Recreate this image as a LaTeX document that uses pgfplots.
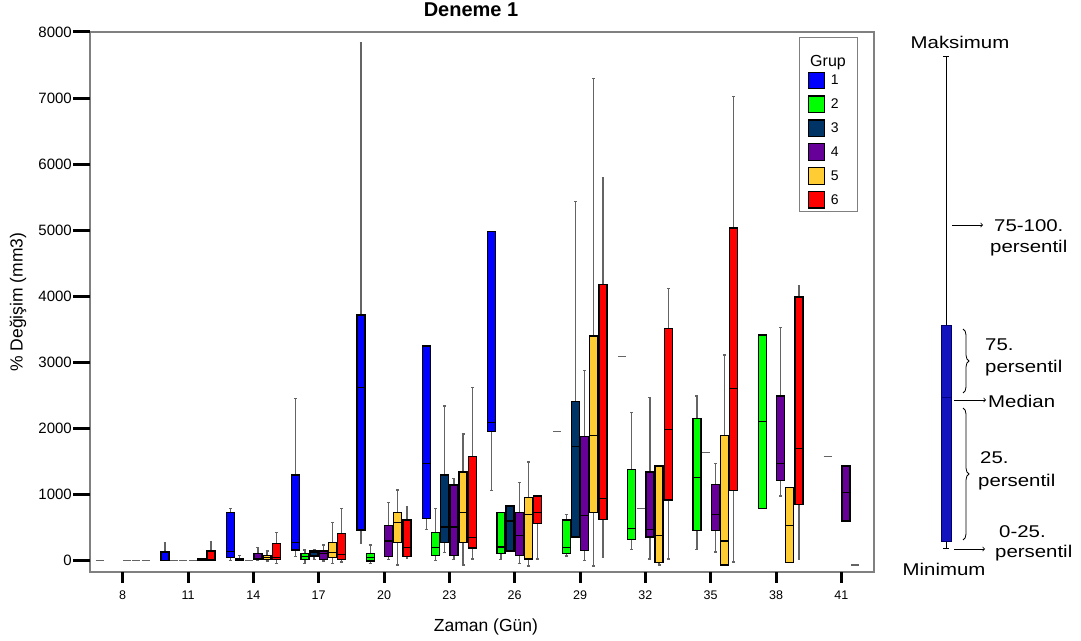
\documentclass[border=0pt]{standalone}
\usepackage{fontspec}
\setmainfont{Liberation Sans}
\newfontfamily\widefont[FakeStretch=1.2]{Liberation Sans}
\usepackage{pgfplots}
\pgfplotsset{compat=1.18}
\usetikzlibrary{decorations.pathreplacing}
\definecolor{g1}{RGB}{0,0,255}
\definecolor{g2}{RGB}{0,255,0}
\definecolor{g3}{RGB}{0,51,102}
\definecolor{g4}{RGB}{102,0,153}
\definecolor{g5}{RGB}{255,204,51}
\definecolor{g6}{RGB}{255,0,0}
\definecolor{wh}{RGB}{100,100,100}
\definecolor{schem}{RGB}{20,20,190}
% box: cat, slot, colour, lower whisker, q1, median, q3, upper whisker
\newcommand{\bx}[8]{%
  \pgfmathsetmacro\xc{#1+(#2-3.5)*0.1407}%
  \pgfmathsetmacro\xl{\xc-0.0615}%
  \pgfmathsetmacro\xr{\xc+0.0615}%
  \pgfmathsetmacro\xa{\xc-0.0225}%
  \pgfmathsetmacro\xb{\xc+0.0225}%
  \edef\tmp{%
  \noexpand\addplot[draw=wh, line width=1.3bp, mark=none, unbounded coords=jump]
    coordinates {(\xc,#7) (\xc,#8) (nan,nan) (\xa,#8) (\xb,#8) (nan,nan) (\xc,#5) (\xc,#4) (nan,nan) (\xa,#4) (\xb,#4)};
  \noexpand\addplot[fill=#3, draw=black, line width=1.3bp, mark=none]
    coordinates {(\xl,#5) (\xr,#5) (\xr,#7) (\xl,#7)} --cycle;
  \noexpand\addplot[draw=black, line width=1.2bp, mark=none]
    coordinates {(\xl,#6) (\xr,#6)};}%
  \tmp}
\newcommand{\dsh}[3]{%
  \pgfmathsetmacro\xc{#1+(#2-3.5)*0.1407}%
  \pgfmathsetmacro\xl{\xc-0.0615}%
  \pgfmathsetmacro\xr{\xc+0.0615}%
  \edef\tmp{\noexpand\addplot[draw=wh, line width=1.3bp, mark=none]
    coordinates {(\xl,#3) (\xr,#3)};}%
  \tmp}
\newcommand{\sq}[1]{\addlegendimage{legend image code/.code={\draw[fill=#1,draw=black,line width=1.2bp] (0bp,-8.2bp) rectangle (16bp,8.2bp);}}}
\begin{document}
\begin{tikzpicture}
\path[use as bounding box] (0bp,0bp) rectangle (1081bp,641bp);
\begin{axis}[
  at={(90bp,69bp)}, anchor=south west, scale only axis,
  width=784bp, height=540bp,
  xmin=-0.5, xmax=11.5, ymin=-175, ymax=8000,
  xtick={0,...,11},
  xticklabels={8,11,14,17,20,23,26,29,32,35,38,41},
  ytick={0,1000,...,8000},
  xtick pos=bottom, ytick pos=left,
  tick align=outside, major tick length=17bp,
  tick style={draw=none},
  after end axis/.code={
    \foreach \v in {0,1000,...,8000} {\draw[black, line width=3bp] (axis cs:-0.5,\v) -- ++(-17bp,0bp);}
    \foreach \c in {0,...,11} {\draw[black, line width=3bp] (axis cs:\c,-175) -- ++(0bp,-11bp);}
  },
  /pgf/number format/1000 sep={},
  /pgf/number format/assume math mode=true,
  yticklabel style={font=\fontsize{15bp}{15bp}\selectfont, inner sep=1bp},
  xticklabel style={font=\fontsize{12.5bp}{12.5bp}\selectfont, inner sep=1.5bp},
  axis line style={draw=gray, line width=1.2bp},
  title={\textbf{Deneme 1}},
  title style={at={(0.486,1)}, anchor=base, yshift=9.6bp, font=\fontsize{20bp}{20bp}\selectfont},
  xlabel={Zaman (Gün)},
  xlabel style={at={(0.505,0)}, anchor=base, yshift=-59.7bp, font=\fontsize{17.5bp}{17.5bp}\selectfont},
  ylabel={\% Değişim (mm3)},
  every axis y label/.style={at={(-0.0918,0.5)}, rotate=90, anchor=center, font=\fontsize{17.5bp}{17.5bp}\selectfont},
  legend style={at={(0.9043,0.9902)}, anchor=north west, draw=gray, line width=1bp, fill=none,
    font=\fontsize{14bp}{14bp}\selectfont, row sep=6.3bp, column sep=5.5bp,
    inner xsep=8.8bp, inner ysep=3bp, nodes={inner sep=0bp}},
  legend cell align=left,
]
\addlegendimage{empty legend}\addlegendentry{\raisebox{0bp}[23bp][0bp]{\hspace{17.5bp}}}
\sq{g1}\addlegendentry{1}
\sq{g2}\addlegendentry{2}
\sq{g3}\addlegendentry{3}
\sq{g4}\addlegendentry{4}
\sq{g5}\addlegendentry{5}
\sq{g6}\addlegendentry{6}
\node[anchor=base west, inner sep=0bp, font=\fontsize{16bp}{16bp}\selectfont] at (axis description cs:0.9184,0.9357) {Grup};
% day 8
\dsh{0}{1}{0}\dsh{0}{4}{0}\dsh{0}{5}{0}\dsh{0}{6}{0}
% day 11
\bx{1}{1}{g1}{0}{0}{0}{126}{268}
\dsh{1}{2}{0}\dsh{1}{3}{0}\dsh{1}{4}{0}
\bx{1}{5}{g5}{0}{0}{5}{20}{20}
\bx{1}{6}{g6}{0}{0}{10}{141}{292}
% day 14
\bx{2}{1}{g1}{0}{40}{141}{722}{783}
\bx{2}{2}{g2}{0}{0}{10}{20}{80}
\dsh{2}{3}{0}
\bx{2}{4}{g4}{0}{15}{30}{101}{192}
\bx{2}{5}{g5}{-10}{15}{50}{80}{141}
\bx{2}{6}{g6}{-50}{15}{50}{253}{419}
% day 17
\bx{3}{1}{g1}{56}{156}{268}{1293}{2450}
\bx{3}{2}{g2}{-50}{15}{61}{106}{156}
\bx{3}{3}{g3}{15}{65}{116}{141}{167}
\bx{3}{4}{g4}{-10}{15}{101}{141}{232}
\bx{3}{5}{g5}{-50}{40}{126}{268}{571}
\bx{3}{6}{g6}{-25}{15}{91}{404}{783}
% day 20
\bx{4}{1}{g1}{253}{459}{2621}{3717}{7833}
\bx{4}{2}{g2}{-50}{-10}{50}{106}{232}
\bx{4}{4}{g4}{15}{56}{293}{530}{874}
\bx{4}{5}{g5}{-71}{268}{571}{722}{1065}
\bx{4}{6}{g6}{30}{56}{192}{611}{808}
% day 23
\bx{5}{1}{g1}{470}{631}{1465}{3247}{3247}
\bx{5}{2}{g2}{0}{80}{192}{419}{783}
\bx{5}{3}{g3}{116}{268}{505}{1293}{2338}
\bx{5}{4}{g4}{15}{80}{505}{1141}{1237}
\bx{5}{5}{g5}{-71}{268}{722}{1338}{1914}
\bx{5}{6}{g6}{20}{187}{353}{1576}{2616}
% day 26
\bx{6}{1}{g1}{1061}{1955}{2086}{4979}{4979}
\bx{6}{2}{g2}{15}{101}{202}{722}{722}
\bx{6}{3}{g3}{141}{141}{596}{823}{823}
\bx{6}{4}{g4}{-50}{80}{379}{722}{1177}
\bx{6}{5}{g5}{-86}{20}{697}{955}{1489}
\bx{6}{6}{g6}{20}{556}{722}{975}{975}
% day 29
\dsh{7}{1}{1955}
\bx{7}{2}{g2}{65}{101}{192}{611}{697}
\bx{7}{3}{g3}{353}{353}{1727}{2404}{5439}
\bx{7}{4}{g4}{0}{152}{677}{1874}{2879}
\bx{7}{5}{g5}{-86}{722}{1894}{3398}{7297}
\bx{7}{6}{g6}{40}{616}{934}{4182}{5788}
% day 32
\dsh{8}{1}{3086}
\bx{8}{2}{g2}{167}{318}{480}{1379}{2237}
\dsh{8}{3}{783}
\bx{8}{4}{g4}{20}{353}{470}{1338}{2465}
\bx{8}{5}{g5}{-71}{-30}{379}{1429}{1429}
\bx{8}{6}{g6}{20}{914}{1980}{3509}{4121}
% day 35
\bx{9}{2}{g2}{167}{450}{1253}{2152}{2490}
\dsh{9}{3}{1636}
\bx{9}{4}{g4}{126}{450}{697}{1147}{1465}
\bx{9}{5}{g5}{-71}{-71}{293}{1894}{3111}
\bx{9}{6}{g6}{-25}{1061}{2601}{5035}{7024}
% day 38
\bx{10}{2}{g2}{783}{783}{2101}{3414}{3414}
\bx{10}{4}{g4}{975}{1207}{1465}{2490}{3524}
\bx{10}{5}{g5}{-30}{-30}{530}{1101}{1101}
\bx{10}{6}{g6}{20}{848}{1697}{3989}{4161}
% day 41
\dsh{11}{2}{1576}
\bx{11}{4}{g4}{596}{596}{1025}{1429}{1429}
\dsh{11}{5}{-71}
\end{axis}
% schematic panel
\begin{axis}[
  at={(880bp,0bp)}, anchor=south west, scale only axis,
  width=201bp, height=641bp,
  xmin=880, xmax=1081, ymin=-641, ymax=0,
  hide axis, clip=false,
]
\addplot[draw=black, line width=1bp, mark=none, unbounded coords=jump]
  coordinates {(946,-57) (946,-326) (nan,nan) (943,-57) (949,-57) (nan,nan) (946,-542) (946,-549) (nan,nan) (943,-549) (949,-549)};
\addplot[fill=schem, draw=black!60!blue, line width=1bp, mark=none]
  coordinates {(941,-326) (951,-326) (951,-542) (941,-542)} --cycle;
\addplot[draw=black!50!blue, line width=1bp, mark=none] coordinates {(941,-398) (951,-398)};
\begin{scope}[font=\widefont\fontsize{17bp}{17bp}\selectfont]
\node[anchor=center] at (axis cs:960,-42) {Maksimum};
\node[anchor=center] at (axis cs:944,-569) {Minimum};
\draw[->, line width=0.8bp] (axis cs:952,-225) -- (axis cs:983,-225);
\node[anchor=west, inner sep=0] at (axis cs:994,-226) {75-100.};
\node[anchor=west, inner sep=0] at (axis cs:990,-248) {persentil};
\draw[decorate, decoration={brace, amplitude=6bp}, line width=0.8bp] (axis cs:963,-329) -- (axis cs:963,-393);
\node[anchor=west, inner sep=0] at (axis cs:985,-345) {75.};
\node[anchor=west, inner sep=0] at (axis cs:985,-368) {persentil};
\draw[->, line width=0.8bp] (axis cs:954,-400) -- (axis cs:986,-400);
\node[anchor=west, inner sep=0] at (axis cs:988,-401) {Median};
\draw[decorate, decoration={brace, amplitude=6bp}, line width=0.8bp] (axis cs:963,-408) -- (axis cs:963,-540);
\node[anchor=west, inner sep=0] at (axis cs:980,-458) {25.};
\node[anchor=west, inner sep=0] at (axis cs:978,-482) {persentil};
\draw[->, line width=0.8bp] (axis cs:954,-549) -- (axis cs:985,-549);
\node[anchor=west, inner sep=0] at (axis cs:999,-532) {0-25.};
\node[anchor=west, inner sep=0] at (axis cs:995,-553) {persentil};
\end{scope}
\end{axis}
\end{tikzpicture}
\end{document}
